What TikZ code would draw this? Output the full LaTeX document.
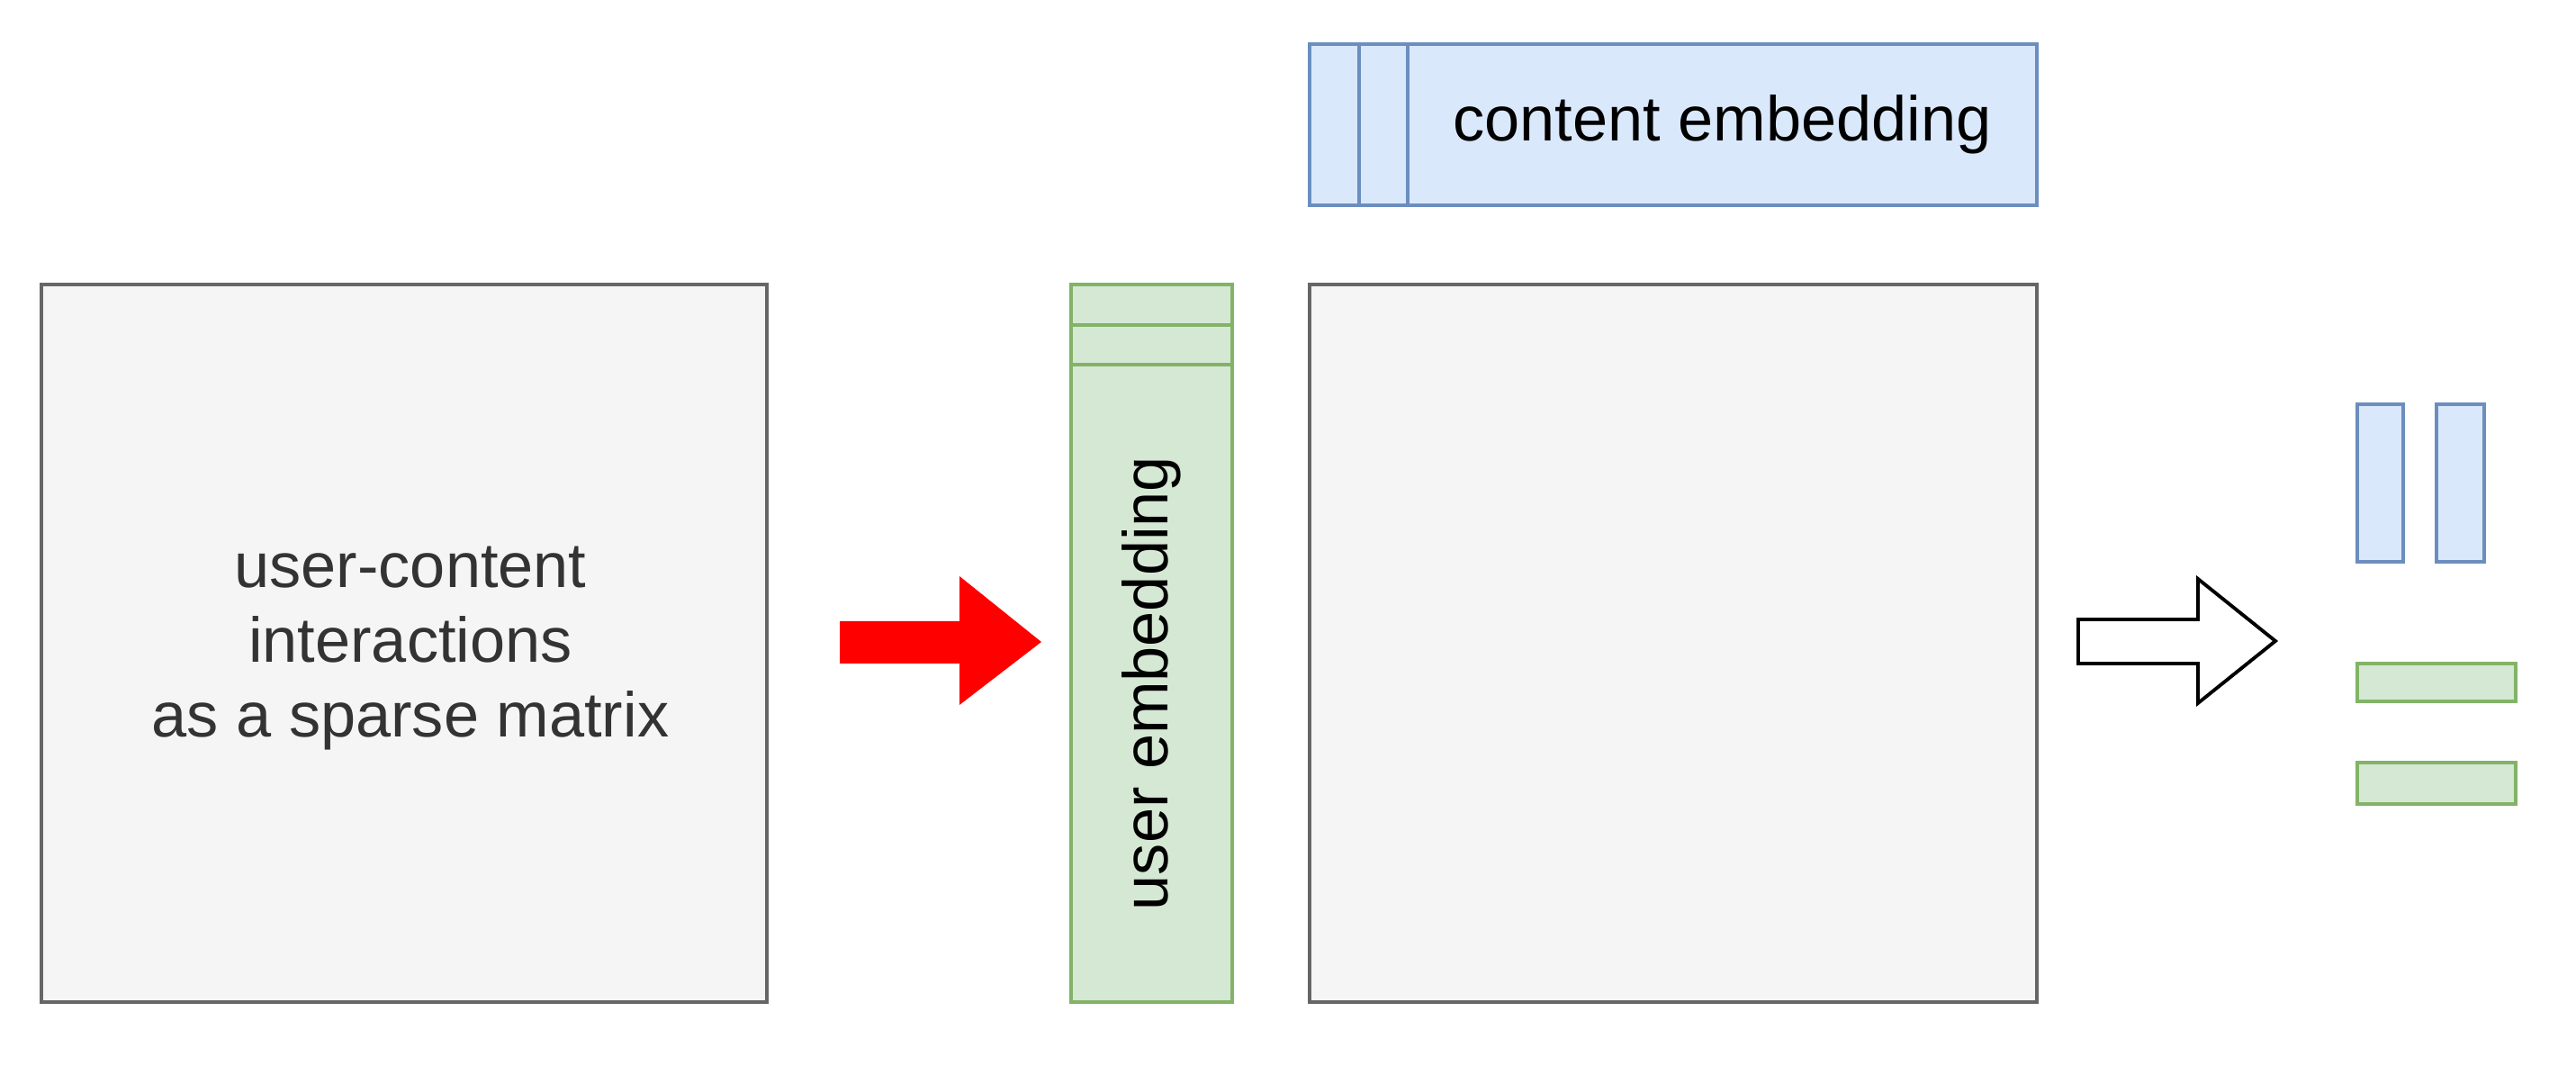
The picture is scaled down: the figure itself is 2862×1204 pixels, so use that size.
\documentclass[tikz,border=0pt]{standalone}
\usepackage{fontspec}
\setmainfont{Liberation Sans}
\definecolor{grayfill}{HTML}{F5F5F5}
\definecolor{graydraw}{HTML}{666666}
\definecolor{greenfill}{HTML}{D5E8D4}
\definecolor{greendraw}{HTML}{82B366}
\definecolor{bluefill}{HTML}{DAE8FC}
\definecolor{bluedraw}{HTML}{6C8EBF}
\definecolor{txtgray}{HTML}{333333}
\begin{document}
\begin{tikzpicture}[x=0.01cm,y=-0.01cm,
  base/.style={rectangle, inner sep=0pt, line width=1pt},
  graybox/.style={base, draw=graydraw, fill=grayfill},
  greenbox/.style={base, draw=greendraw, fill=greenfill},
  bluebox/.style={base, draw=bluedraw, fill=bluefill},
  lbl/.style={font=\fontsize{20}{23.6}\selectfont, align=center},
  redarrow/.style={fill=red},
  hollowarrow/.style={draw=black, fill=white, line width=1.1pt, line join=miter}
]
\useasboundingbox[fill=white] (0,0) rectangle (2862,1204);

% left matrix
\node[graybox, minimum width=8.06cm, minimum height=7.97cm] (sparse) at (449,714.5) {};
\node[lbl, text=txtgray] (sparsetxt) at ([xshift=0.07cm,yshift=-0.06cm]sparse.center) {user-content\\interactions\\as a sparse matrix};

% user embedding
\node[greenbox, minimum width=1.79cm, minimum height=7.97cm] (user) at (1279.5,714.5) {};
\draw[greendraw, line width=1pt] (1190,361) -- (1369,361);
\draw[greendraw, line width=1pt] (1190,405) -- (1369,405);
\node[lbl, rotate=90] (usertxt) at (1279.5,759) {user embedding};

% middle matrix
\node[graybox, minimum width=8.08cm, minimum height=7.97cm] (dense) at (1859,714.5) {};

% content embedding
\node[bluebox, minimum width=8.08cm, minimum height=1.79cm] (content) at (1859,138.5) {};
\draw[bluedraw, line width=1pt] (1510,49) -- (1510,228);
\draw[bluedraw, line width=1pt] (1564,49) -- (1564,228);
\node[lbl] (contenttxt) at (1913.5,138.5) {content embedding};

% red arrow
\fill[redarrow] (933,690) -- (1066,690) -- (1066,640) -- (1157,713) -- (1066,783) -- (1066,737) -- (933,737) -- cycle;

% hollow arrow
\draw[hollowarrow] (2309,688) -- (2442,688) -- (2442,643) -- (2528,712) -- (2442,781) -- (2442,737) -- (2309,737) -- cycle;

% result pieces
\node[bluebox, minimum width=0.51cm, minimum height=1.75cm] (c1) at (2644.5,536.5) {};
\node[bluebox, minimum width=0.53cm, minimum height=1.75cm] (c2) at (2733.5,536.5) {};
\node[greenbox, minimum width=1.76cm, minimum height=0.42cm] (u1) at (2707,758) {};
\node[greenbox, minimum width=1.76cm, minimum height=0.46cm] (u2) at (2707,870) {};
\end{tikzpicture}
\end{document}
